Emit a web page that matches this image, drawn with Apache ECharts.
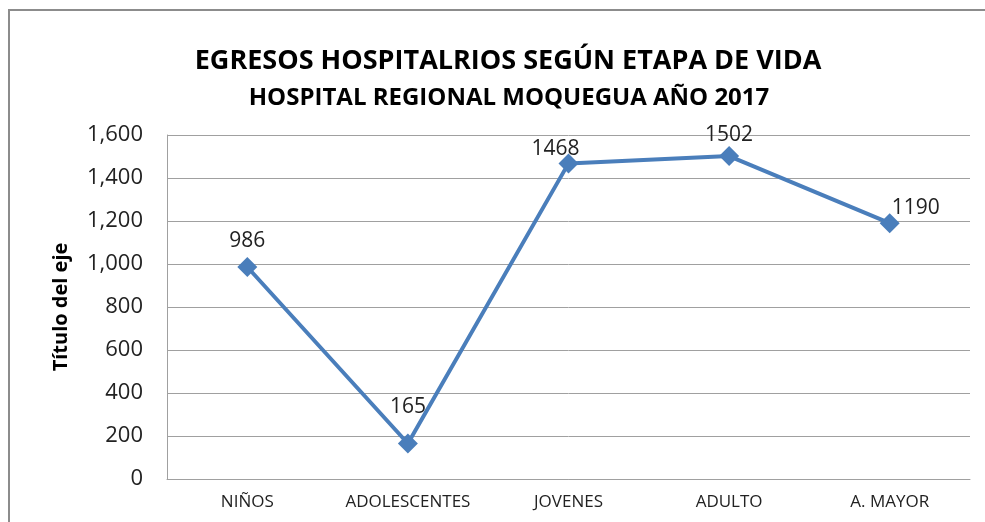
<!DOCTYPE html>
<html>
<head>
<meta charset="utf-8">
<script src="https://cdn.jsdelivr.net/npm/echarts@6/dist/echarts.min.js"></script>
<style>
  html, body { margin: 0; padding: 0; background: #fff; }
  #chart-container { width: 985px; height: 522px; }
</style>
</head>
<body>
<div id="chart-container"></div>
<script>
// categories and values
const etapas = ['NIÑOS', 'ADOLESCENTES', 'JOVENES', 'ADULTO', 'A. MAYOR'];
const egresos = [986, 165, 1468, 1502, 1190];
const yTicks = [0, 200, 400, 600, 800, 1000, 1200, 1400, 1600];

// label offsets per point (x, y) - excel put them a bit off in places
const labelOffsets = [[0, 0], [0, -11], [-13, 11], [0, 4], [26, 10]];

var font = '"Open Sans", sans-serif';

var dom = document.getElementById('chart-container');
var myChart = echarts.init(dom, null, { renderer: 'canvas' });

var seriesData = egresos.map((v, i) => {
  return {
    value: v,
    label: { offset: labelOffsets[i] }
  };
});

var option = {
  animation: false,
  graphic: [
    {
      type: 'rect',
      shape: { x: 9, y: 10, width: 990, height: 530 },
      style: { fill: 'none', stroke: '#8c8c8c', lineWidth: 2 },
      silent: true
    }
  ],
  title: [
    {
      text: 'EGRESOS HOSPITALRIOS SEGÚN ETAPA DE VIDA',
      left: 503, top: 43, textAlign: 'center',
      textStyle: { fontFamily: font, fontWeight: 'bold', fontSize: 27, color: '#000' }
    },
    {
      text: 'HOSPITAL REGIONAL MOQUEGUA AÑO 2017',
      left: 504, top: 81, textAlign: 'center',
      textStyle: { fontFamily: font, fontWeight: 'bold', fontSize: 24, color: '#000' }
    }
  ],
  grid: { left: 167, right: 15, top: 135, bottom: 43, containLabel: false },
  xAxis: {
    type: 'category',
    data: etapas,
    axisLine: { lineStyle: { color: '#a0a0a0', width: 1 } },
    axisTick: { show: false },
    axisLabel: { interval: 0, fontFamily: font, fontSize: 17, color: '#222', margin: 15 }
  },
  yAxis: {
    type: 'value',
    min: yTicks[0],
    max: yTicks[yTicks.length - 1],
    interval: 200,
    name: 'Título del eje',
    nameLocation: 'middle',
    nameGap: 96,
    nameTextStyle: { fontFamily: font, fontWeight: 'bold', fontSize: 20, color: '#000' },
    axisLine: { show: true, lineStyle: { color: '#a0a0a0' } },
    axisTick: { show: false },
    splitLine: { lineStyle: { color: '#a0a0a0', width: 1 } },
    axisLabel: {
      fontFamily: font, fontSize: 22, color: '#222', margin: 24,
      formatter: v => v.toLocaleString('en-US')
    }
  },
  series: [
    {
      type: 'line',
      data: seriesData,
      lineStyle: { color: '#4a7ebb', width: 4 },
      itemStyle: { color: '#4a7ebb' },
      symbol: 'diamond',
      symbolSize: 20,
      label: {
        show: true,
        position: 'top',
        distance: 5,
        fontFamily: font,
        fontSize: 21,
        color: '#222'
      }
    }
  ]
};

myChart.setOption(option);
window.addEventListener('resize', myChart.resize);
</script>
</body>
</html>
